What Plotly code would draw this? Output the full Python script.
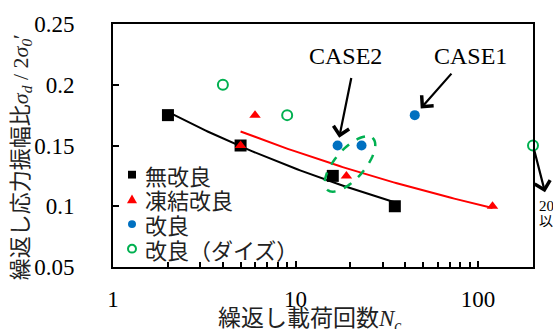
import numpy as np
import plotly.graph_objects as go

# Cyclic triaxial results: number of loading cycles vs. cyclic stress ratio
n_unimproved = [2, 5, 16, 35]
r_unimproved = [0.175, 0.15, 0.125, 0.10]

n_frozen = [5, 6, 19, 120]
r_frozen = [0.15, 0.175, 0.125, 0.10]

n_improved = [17, 23, 45]
r_improved = [0.15, 0.15, 0.175]

n_dilative = [4, 9, 200]
r_dilative = [0.20, 0.175, 0.15]

x_tickvals = [1, 10, 100]
y_tickvals = [0.05, 0.1, 0.15, 0.2, 0.25]

names = ["無改良", "凍結改良", "改良", "改良（ダイズ）"]

BLACK = "#000000"
RED = "#FF0000"
BLUE = "#0070C0"
GREEN = "#00B050"
TEXT = "#222222"
SERIF = "Liberation Serif"
CJK = "Noto Sans CJK JP"

# figure / plot-area geometry in pixels
W, H = 553, 329
ML, MR, MT, MB = 113, 20, 17, 62
PW, PH = W - ML - MR, H - MT - MB


def px2paper(px, py):
    return (px - ML) / PW, (H - MB - py) / PH


def power_fit(n, r):
    """Least-squares fit r = a * n**b in log-log space, sampled over the data span."""
    b, ln_a = np.polyfit(np.log(n), np.log(r), 1)
    xs = np.geomspace(min(n), max(n), 80)
    return xs, np.exp(ln_a) * xs ** b


fig = go.Figure()

# trend curves
for n, r, col in [(n_unimproved, r_unimproved, BLACK), (n_frozen, r_frozen, RED)]:
    xs, ys = power_fit(n, r)
    fig.add_trace(go.Scatter(x=xs, y=ys, mode="lines", line=dict(color=col, width=2),
                             showlegend=False, hoverinfo="skip"))

# measured points
fig.add_trace(go.Scatter(x=n_unimproved, y=r_unimproved, mode="markers", name=names[0],
                         marker=dict(symbol="square", size=12, color=BLACK)))
fig.add_trace(go.Scatter(x=n_frozen, y=r_frozen, mode="markers", name=names[1],
                         marker=dict(symbol="triangle-up", size=10, color=RED)))
fig.add_trace(go.Scatter(x=n_improved, y=r_improved, mode="markers", name=names[2],
                         marker=dict(symbol="circle", size=10, color=BLUE)))
fig.add_trace(go.Scatter(x=n_dilative, y=r_dilative, mode="markers", name=names[3],
                         cliponaxis=False,
                         marker=dict(symbol="circle-open", size=10, color=GREEN,
                                     line=dict(width=2, color=GREEN))))

# compact legend inside the plot: swatch shapes + labels
leg_x, leg_y0, leg_dy, sw = 132, 172, 25.4, 4
for i, name in enumerate(names):
    cy = leg_y0 + i * leg_dy
    x0, y0 = px2paper(leg_x - sw, cy + sw)
    x1, y1 = px2paper(leg_x + sw, cy - sw)
    if i == 0:
        fig.add_shape(type="rect", xref="paper", yref="paper", x0=x0, y0=y0, x1=x1, y1=y1,
                      fillcolor=BLACK, line=dict(width=0))
    elif i == 1:
        ax_, ay_ = px2paper(leg_x - 5, cy + 4)
        bx_, by_ = px2paper(leg_x + 5, cy + 4)
        tx_, ty_ = px2paper(leg_x, cy - 5)
        fig.add_shape(type="path", xref="paper", yref="paper",
                      path=f"M {ax_},{ay_} L {bx_},{by_} L {tx_},{ty_} Z",
                      fillcolor=RED, line=dict(width=0))
    elif i == 2:
        fig.add_shape(type="circle", xref="paper", yref="paper", x0=x0, y0=y0, x1=x1, y1=y1,
                      fillcolor=BLUE, line=dict(width=0))
    else:
        fig.add_shape(type="circle", xref="paper", yref="paper", x0=x0, y0=y0, x1=x1, y1=y1,
                      fillcolor="rgba(0,0,0,0)", line=dict(width=2, color=GREEN))
    tx, ty = px2paper(143, cy)
    fig.add_annotation(x=tx, y=ty, xref="paper", yref="paper", xanchor="left", yanchor="middle",
                       text=name, showarrow=False, font=dict(family=CJK, size=22, color=TEXT))

# dashed ellipse around the grouped points (pixel centre, semi-axes, tilt)
cx, cy, a_ax, b_ax, tilt = 350, 161, 35, 15, np.deg2rad(50)
t = np.linspace(0, 2 * np.pi, 73)
ex = cx + a_ax * np.cos(t) * np.cos(tilt) + b_ax * np.sin(t) * np.sin(tilt)
ey = cy - a_ax * np.cos(t) * np.sin(tilt) + b_ax * np.sin(t) * np.cos(tilt)
ux, uy = px2paper(ex, ey)
path = "M " + " L ".join(f"{x:.4f},{y:.4f}" for x, y in zip(ux, uy)) + " Z"
fig.add_shape(type="path", path=path, xref="paper", yref="paper",
              line=dict(color=GREEN, width=2.5, dash="dash"), layer="above")

arrow = dict(showarrow=True, arrowhead=4, arrowsize=1.4, arrowwidth=2.2, arrowcolor=BLACK, text="")


def label(px, py, text, size, family=SERIF, xanchor="center", angle=0, color=BLACK):
    x, y = px2paper(px, py)
    fig.add_annotation(x=x, y=y, xref="paper", yref="paper", xanchor=xanchor, yanchor="middle",
                       textangle=angle, text=text, showarrow=False,
                       font=dict(family=family, size=size, color=color))


# CASE labels with arrows
fig.add_annotation(x=np.log10(n_improved[0]), y=r_improved[0], ax=14, ay=-69, standoff=8, **arrow)
fig.add_annotation(x=np.log10(n_improved[2]), y=r_improved[2], ax=38, ay=-43, standoff=9, **arrow)
label(345, 50, "CASE2", 24)
label(470, 50, "CASE1", 24)

# off-scale note on the right edge
hx, hy = px2paper(545, 190)
fig.add_annotation(x=hx, y=hy, xref="paper", yref="paper", ax=-11, ay=-43, standoff=0, **arrow)
label(537, 204, "200回", 15, family=SERIF + ", " + CJK, xanchor="left")
label(537, 219, "以上", 14, family=CJK, xanchor="left")

# axis titles
label(22, 154, "繰返し応力振幅比<i>σ<sub>d</sub></i> / 2<i>σ</i><sub><i>0</i></sub>′", 22,
      family=SERIF + ", " + CJK, angle=-90, color=TEXT)
label(310, 322, "繰返し載荷回数<i>N<sub>c</sub></i>", 23, family=SERIF + ", " + CJK, color=TEXT)

axis_common = dict(showline=True, linecolor=BLACK, linewidth=2, mirror=True,
                   ticks="inside", ticklen=6, tickcolor=BLACK, tickwidth=1.5,
                   showgrid=False, zeroline=False,
                   tickfont=dict(family=SERIF, size=23, color=BLACK))

fig.update_xaxes(type="log", range=[0, np.log10(200)], tickmode="array", tickvals=x_tickvals,
                 ticktext=[str(v) for v in x_tickvals], ticklabelstandoff=10,
                 minor=dict(ticks="inside", ticklen=5, tickcolor=BLACK, tickwidth=1.5,
                            tickvals=[k * 10 ** d for d in range(3) for k in range(2, 10)
                                      if k * 10 ** d <= 200] + [200]),
                 **axis_common)
fig.update_yaxes(range=[0.05, 0.25], tickmode="array", tickvals=y_tickvals,
                 ticktext=[f"{v:g}" for v in y_tickvals], ticklabelstandoff=32,
                 **axis_common)

fig.update_layout(
    width=W, height=H, autosize=False,
    margin=dict(l=ML, r=MR, t=MT, b=MB, pad=0),
    plot_bgcolor="white", paper_bgcolor="white",
    showlegend=False,
)

fig.write_html("out.html")
